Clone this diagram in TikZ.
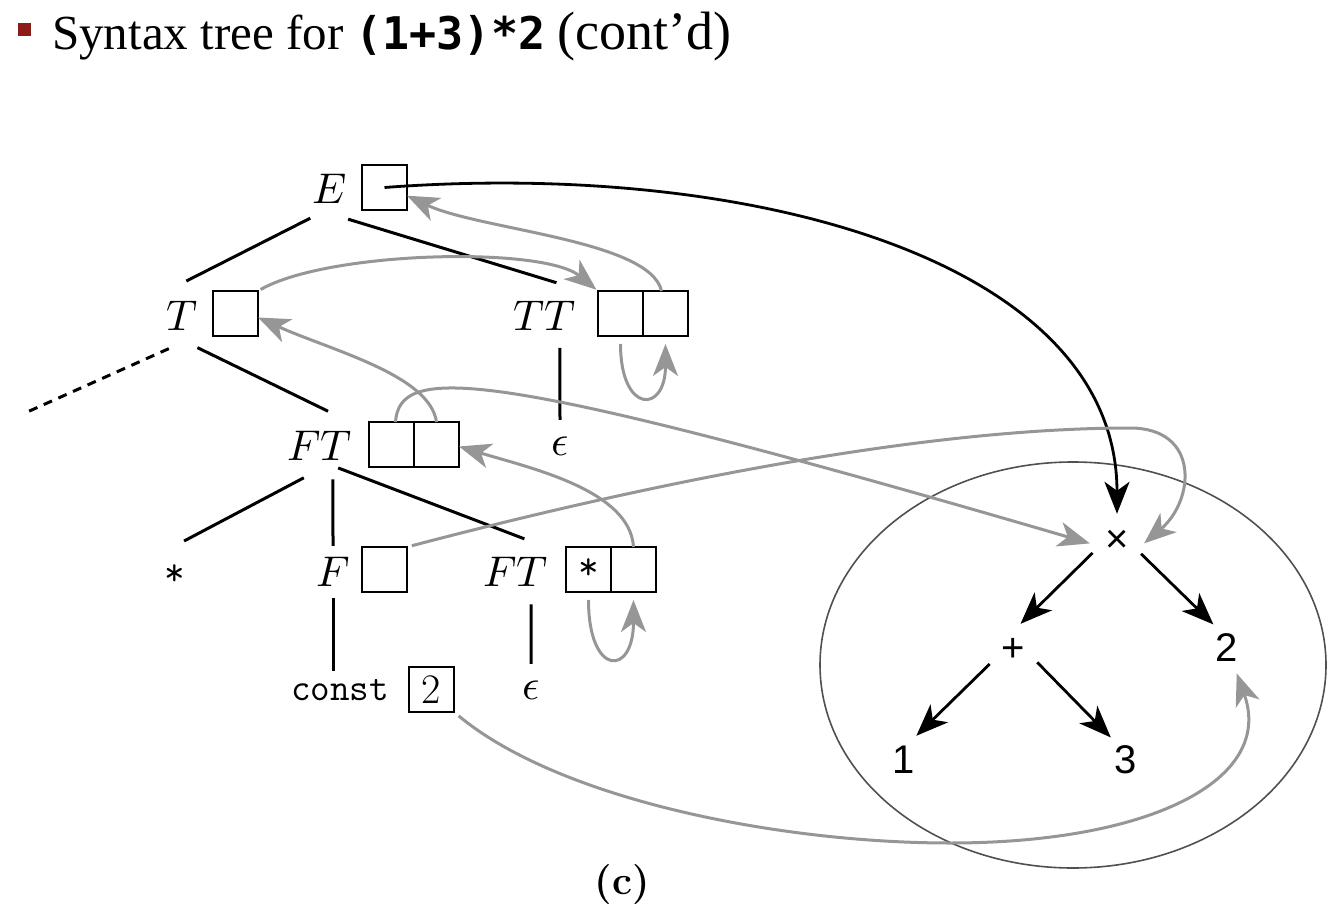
\documentclass[tikz,border=0pt]{standalone}
\usepackage{fontspec}
\usepackage{unicode-math}
\setmathfont{Latin Modern Math}
\newfontfamily\titlefont{Liberation Serif}
\newfontfamily\titlemono{DejaVu Sans Mono}
\newfontfamily\astfont{Liberation Sans}
\usetikzlibrary{arrows.meta, positioning, shapes.geometric}
\definecolor{attrgray}{RGB}{150,150,150}
\definecolor{ringgray}{RGB}{80,80,80}
\definecolor{bulletred}{RGB}{140,28,24}
\tikzset{
  sym/.style={circle, minimum size=70pt, inner sep=0pt, font=\fontsize{43}{46}\selectfont},
  leaf/.style={sym, minimum size=52pt},
  cell/.style={draw, minimum size=45pt, inner sep=0pt, outer sep=0pt,
    line width=2.6pt, font=\fontsize{42}{46}\selectfont},
  branch/.style={line width=3pt},
  attr/.style={-{Stealth[length=32pt,width=25pt,inset=9pt]}, line width=3pt, attrgray},
  ptr/.style={-{Stealth[length=32pt,width=25pt,inset=9pt]}, line width=2.8pt},
  astnode/.style={circle, minimum size=54pt, inner sep=0pt,
    font=\astfont\fontsize{40}{44}\selectfont}
}

\begin{document}
\begin{tikzpicture}[x=1pt, y=-1pt]
  \useasboundingbox (0,0) rectangle (1334,915);

  % heading
  \node[fill=bulletred, minimum size=13pt, inner sep=0pt] (bullet) at (24,30) {};
  \node[anchor=base west, inner sep=0pt, font=\titlefont\fontsize{49}{52}\selectfont] (title) at (52,50)
    {Syntax tree for {\titlemono\bfseries\fontsize{45}{52}\selectfont (1+3)*2}
     {\fontsize{54}{56}\selectfont (cont’d)}};

  % parse tree
  \node[sym]  (E)    at (330,189) {$E$};
  \node[cell] (Ebox) at (384.5,187.5) {};
  \node[sym]  (T)    at (182,316) {$T$};
  \node[cell] (Tbox) at (235.5,313.5) {};
  \node[sym]  (TT)   at (545,316) {$TT$};
  \node[cell] (TTa)  at (620.5,313.5) {};
  \node[cell, right=0pt of TTa] (TTb) {};
  \node[leaf] (eps1) at (560,446) {$\epsilon$};
  \node[sym]  (FT)   at (320,446) {$FT$};
  \node[cell] (FTa)  at (391.5,444.5) {};
  \node[cell, right=0pt of FTa] (FTb) {};
  \node[sym]  (star) at (175,575) {\ttfamily\fontsize{40}{44}\selectfont *};
  \node[sym]  (F)    at (333,572) {$F$};
  \node[cell] (Fbox) at (384.5,569.5) {};
  \node[sym]  (FT2)  at (516,572) {$FT$};
  \node[cell] (FT2a) at (588.5,569.5) {\ttfamily\fontsize{40}{44}\selectfont *};
  \node[cell, right=0pt of FT2a] (FT2b) {};
  \node[inner sep=4pt, font=\ttfamily\fontsize{38}{42}\selectfont] (const) at (340,690) {const};
  \node[cell] (c2box) at (431.5,689.5) {2};
  \node[leaf] (eps2) at (531,690) {$\epsilon$};
  \coordinate (Tcut) at (25,413);

  \draw[branch] (E.-124) -- (T.83);
  \draw[branch] (E.-59) -- (TT.71);
  \draw[branch, dash pattern=on 9pt off 7pt] (T.-112) -- (Tcut);
  \draw[branch] (T.-64) -- (FT.77);
  \draw[branch] (TT.-65) -- (eps1.90);
  \draw[branch] (FT.-117) -- (star.75);
  \draw[branch, shorten >=-9pt] (FT.-69) -- (F.90);
  \draw[branch, shorten <=-8pt, shorten >=-7pt] (FT.-44) -- (FT2.87);
  \draw[branch, shorten <=-9pt, shorten >=4pt] (F.-90) -- (F.-90 |- const.north);
  \draw[branch] (FT2.-65) -- (eps2.90);

  % syntax tree
  \node[draw=ringgray, line width=1.6pt, ellipse, minimum width=506pt,
    minimum height=406pt, inner sep=0pt] (ast) at (1073,665) {};
  \node[astnode] (times) at (1117,541) {×};
  \node[astnode] (plus)  at (1013,650) {+};
  \node[astnode] (two)   at (1227,648) {2};
  \node[astnode] (one)   at (904,760) {1};
  \node[astnode] (three) at (1126,760) {3};

  \draw[ptr] (times.-154) -- (plus.74);
  \draw[ptr] (times.-28) -- (two.120);
  \draw[ptr] (plus.-149) -- (one.63);
  \draw[ptr] (plus.-27) -- (three.124);
  \draw[ptr] (Ebox.center) .. controls (750,160) and (1117,260) .. (times.north);

  % attribute flow
  \coordinate (Fpeak) at (1130,428);
  \coordinate (cbot) at (950,843);
  \draw[attr] (TTb.100) .. controls (650,240) and (480,230) .. (Ebox.-20);
  \draw[attr, shorten <=3pt, shorten >=2pt] (Tbox.north east) .. controls (328,251) and (543,246) .. (TTa.north west);
  \draw[attr, shorten <=8pt, shorten >=8pt] (TTa.south) .. controls +(0,78) and +(0,78) .. (TTb.south);
  \draw[attr] (FTb.north) .. controls (430,375) and (330,350) .. (Tbox.-10);
  \draw[attr] (FTa.80) .. controls (400,365) and (480,365) .. (times.-175);
  \draw[attr] (FT2b.north) .. controls (630,490) and (530,468) .. (FTb.-5);
  \draw[attr, shorten <=8pt, shorten >=8pt] (FT2a.south) .. controls +(0,85) and +(0,85) .. (FT2b.south);
  \draw[attr, shorten <=5pt] (Fbox.north east) .. controls (700,470) and (950,428) .. (Fpeak)
    .. controls (1200,428) and (1195,500) .. (times.-5);
  \draw[attr, shorten <=6pt] (c2box.south east) .. controls (560,800) and (780,843) .. (cbot)
    .. controls (1150,843) and (1275,780) .. (two.-69);

  \node[font=\bfseries\fontsize{40}{44}\selectfont] (caption) at (622,885) {(c)};
\end{tikzpicture}
\end{document}
